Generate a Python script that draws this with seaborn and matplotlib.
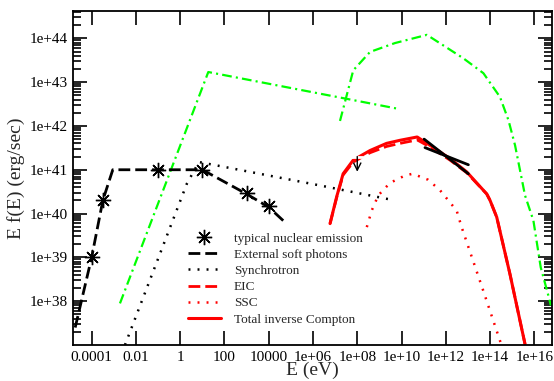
import matplotlib
matplotlib.use("Agg")
import matplotlib.pyplot as plt
import seaborn as sns
import numpy as np

# ---------------- data ----------------
star_x = [1e-4, 3.2e-4, 0.1, 10, 1e3, 1e4]
star_y = [1e39, 2e40, 1e41, 1e41, 3e40, 1.5e40]

esp_x = [1.8e-5, 1e-4, 3.2e-4, 9e-4, 10, 1e3, 1e4, 6.3e4]
esp_y = [2.5e37, 1e39, 2e40, 1e41, 1e41, 2.8e40, 1.4e40, 5.9e39]

syn_x = [3.2e-3, 2.0, 7.0, 31, 2.5e6, 3e9]
syn_y = [1e37, 4.8e40, 1.5e41, 1.3e41, 4.3e40, 2.1e40]

grn1_x = [1.9e-3, 18.6, 6e9]
grn1_y = [8.9e37, 1.7e43, 2.5e42]

grn2_x = [1.66e7, 6.6e7, 3.8e8, 5.1e9, 1.4e11, 6.2e12, 5e13, 2.8e14, 6.8e14,
          1.35e15, 3.8e15, 9.1e15, 1.95e16, 4.3e16, 5.6e16]
grn2_y = [1.3e42, 1.86e43, 4.9e43, 7.8e43, 1.2e44, 3.5e43, 1.6e43, 4.6e42, 1.35e42,
          3.6e41, 2.6e40, 6.9e39, 5.9e38, 1.35e38, 8e37]

ic_x = [5.9e6, 1.17e7, 2.3e7, 6.6e7, 3.8e8, 2.1e9, 8.5e9, 5.1e10, 1.95e11,
        1.55e12, 8.9e12, 7.1e13, 1e14, 2e14, 7.9e14, 3.8e15]
tot_y = [5.9e39, 2.4e40, 8.1e40, 1.66e41, 2.75e41, 4e41, 4.7e41, 5.6e41, 3.6e41,
         1.8e41, 8.9e40, 2.8e40, 2e40, 8.3e39, 4.2e38, 1.05e37]
eic_y = [5.9e39, 2.3e40, 7.6e40, 1.5e41, 2.45e41, 3.4e41, 4e41, 4.8e41, 3.3e41,
         1.66e41, 8.5e40, 2.8e40, 2e40, 8.3e39, 4.2e38, 1.05e37]

ssc_x = [2.7e8, 4.5e8, 8.9e8, 3e9, 1.45e10, 3.2e10, 1.6e11, 5.5e11, 3.1e12,
         5.2e12, 5e13, 2.8e14, 3.5e14]
ssc_y = [4.9e39, 1.17e40, 2.6e40, 5e40, 7.4e40, 8.1e40, 5.9e40, 3.4e40, 1.17e40,
         4.9e39, 1.7e38, 1.26e37, 9e36]

ul_x = [1e8]
ul_y = [2e41]
ul_tip = [9e40]

bow1_x = [1.05e11, 1.05e13]
bow1_y = [5e41, 8.1e40]
bow2_x = [1.15e11, 1.05e13]
bow2_y = [3.2e41, 1.3e41]

xticks = [1e-4, 1e-2, 1, 1e2, 1e4, 1e6, 1e8, 1e10, 1e12, 1e14, 1e16]
xticklabels = ["0.0001", "0.01", "1", "100", "10000", "1e+06", "1e+08",
               "1e+10", "1e+12", "1e+14", "1e+16"]
yticks = [1e38, 1e39, 1e40, 1e41, 1e42, 1e43, 1e44]
yticklabels = ["1e+38", "1e+39", "1e+40", "1e+41", "1e+42", "1e+43", "1e+44"]

labels = ["typical nuclear emission", "External soft photons", "Synchrotron",
          "EIC", "SSC", "Total inverse Compton"]

# ---------------- style ----------------
sns.set_theme(style="ticks")
plt.rcParams["font.family"] = ["Liberation Serif", "DejaVu Serif"]
plt.rcParams["lines.scale_dashes"] = False
plt.rcParams["axes.linewidth"] = 1.3

fig = plt.figure(figsize=(5.54, 3.81), dpi=100)
ax = fig.add_axes([0.1323, 0.0945, 0.9964 - 0.1323, 0.9711 - 0.0945])
ax.set_xscale("log")
ax.set_yscale("log")

GREEN = "#00ff00"
RED = "#ff0000"

# green (no legend)
sns.lineplot(x=grn1_x, y=grn1_y, ax=ax, color=GREEN, lw=1.6, sort=False,
             estimator=None, linestyle=(0, (7, 3, 1.5, 3)), legend=False)
sns.lineplot(x=grn2_x, y=grn2_y, ax=ax, color=GREEN, lw=1.6, sort=False,
             estimator=None, linestyle=(0, (7, 3, 1.5, 3)), legend=False)

# legend items
sns.lineplot(x=star_x, y=star_y, ax=ax, linestyle="none", marker=(8, 2, 0),
             markersize=11, mec="black", mew=1.0, color="black", sort=False,
             estimator=None, label=labels[0])
sns.lineplot(x=esp_x, y=esp_y, ax=ax, color="black", lw=2.0, sort=False,
             estimator=None, linestyle=(0, (8.5, 3.6)), label=labels[1])
sns.lineplot(x=syn_x, y=syn_y, ax=ax, color="black", lw=1.8, sort=False,
             estimator=None, linestyle=(0, (1.4, 5.1)), label=labels[2])
sns.lineplot(x=ic_x, y=eic_y, ax=ax, color=RED, lw=2.0, sort=False,
             estimator=None, linestyle=(0, (8.5, 3.6)), label=labels[3])
sns.lineplot(x=ssc_x, y=ssc_y, ax=ax, color=RED, lw=1.8, sort=False,
             estimator=None, linestyle=(0, (1.4, 5.1)), label=labels[4])
sns.lineplot(x=ic_x, y=tot_y, ax=ax, color=RED, lw=2.2, sort=False,
             estimator=None, linestyle="-", label=labels[5])

# upper limit & bowtie
sns.lineplot(x=ul_x, y=ul_y, ax=ax, linestyle="none", marker="_", markersize=14,
             mew=2.0, color="black", estimator=None, legend=False)
for xx, y0, y1 in zip(ul_x, ul_y, ul_tip):
    ax.annotate("", xy=(xx, y1), xytext=(xx, y0),
                arrowprops=dict(arrowstyle="->", color="black", lw=1.0,
                                shrinkA=0, shrinkB=0, mutation_scale=13))
sns.lineplot(x=bow1_x, y=bow1_y, ax=ax, color="black", lw=2.0, sort=False,
             estimator=None, legend=False)
sns.lineplot(x=bow2_x, y=bow2_y, ax=ax, color="black", lw=2.0, sort=False,
             estimator=None, legend=False)

ax.set_xlim(1.48e-5, 6.3e16)
ax.set_ylim(1e37, 4.2e44)

ax.xaxis.set_major_locator(matplotlib.ticker.FixedLocator(xticks))
ax.xaxis.set_major_formatter(matplotlib.ticker.FixedFormatter(xticklabels))
ax.xaxis.set_minor_locator(matplotlib.ticker.NullLocator())
ax.yaxis.set_major_locator(matplotlib.ticker.FixedLocator(yticks))
ax.yaxis.set_major_formatter(matplotlib.ticker.FixedFormatter(yticklabels))
ax.yaxis.set_minor_locator(matplotlib.ticker.LogLocator(base=10, subs=np.arange(2, 10), numticks=100))
ax.yaxis.set_minor_formatter(matplotlib.ticker.NullFormatter())

ax.tick_params(which="both", direction="in", top=True, right=True, labelsize=11,
               colors="black", width=1.2)
ax.tick_params(which="major", length=10, pad=4)
ax.tick_params(which="minor", length=5.5)
for s in ax.spines.values():
    s.set_visible(True)
    s.set_color("black")

ax.set_xlabel("E (eV)", fontsize=14, labelpad=-1)
ax.set_ylabel("E f(E) (erg/sec)", fontsize=14, labelpad=3)

h, l = ax.get_legend_handles_labels()
ax.legend(h, l, loc="upper left", bbox_to_anchor=(0.22, 0.365), frameon=False,
          fontsize=9.5, handlelength=2.5, handletextpad=1.0, labelspacing=0.3,
          borderpad=0.2)

fig.savefig("out.png", dpi=100)
